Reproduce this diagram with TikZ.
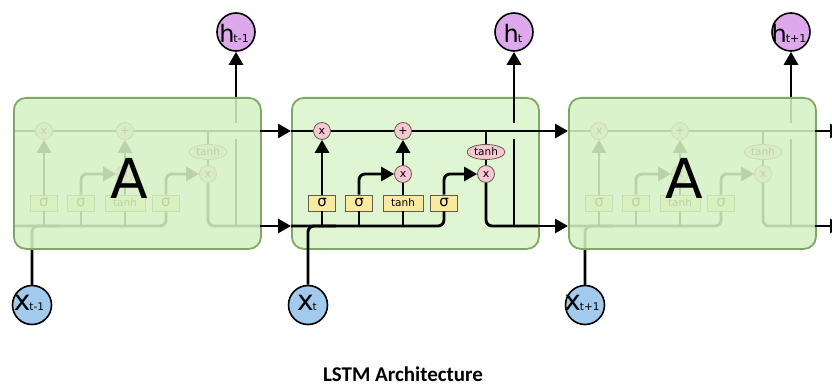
\documentclass[tikz,border=0pt]{standalone}
\usepackage{fontspec}
\setmainfont{DejaVu Sans}
\newfontfamily\titlefont{Carlito}
\usetikzlibrary{arrows.meta,shapes.geometric}
\definecolor{boxfill}{RGB}{224,245,210}
\definecolor{sidefill}{RGB}{214,241,196}
\definecolor{boxdraw}{RGB}{128,168,98}
\definecolor{pwfill}{RGB}{246,200,212}
\definecolor{gatefill}{RGB}{250,234,160}
\definecolor{gatedraw}{RGB}{95,95,75}
\definecolor{hfill}{RGB}{222,168,236}
\definecolor{xfill}{RGB}{162,202,236}
\tikzset{
  ln/.style={line width=2.9pt, line cap=butt},
  arr/.style={ln, -{Triangle[length=13pt,width=14pt]}},
  rc/.style={rounded corners=6pt},
  pw/.style={circle, draw=gatedraw, line width=0.8pt, fill=pwfill, minimum size=17pt, inner sep=0pt, font=\fontsize{11}{11}\selectfont},
  gatebox/.style={rectangle, draw=gatedraw, line width=0.8pt, fill=gatefill, minimum width=27pt, minimum height=16pt, inner sep=0pt, font=\fontsize{15}{15}\selectfont},
  tanhe/.style={ellipse, draw=gatedraw, line width=0.8pt, fill=pwfill, minimum width=38pt, minimum height=15pt, inner sep=0pt, font=\fontsize{10.5}{10.5}\selectfont},
  cellbox/.style={rectangle, rounded corners=12pt, draw=boxdraw, line width=1.8pt, minimum width=247pt, minimum height=151pt, inner sep=0pt},
  hcirc/.style={circle, draw=black, line width=1.6pt, fill=hfill, minimum size=38pt, inner sep=0pt},
  xcirc/.style={circle, draw=black, line width=1.6pt, fill=xfill, minimum size=39pt, inner sep=0pt},
  bigA/.style={font=\fontsize{55}{55}\selectfont},
}
% #1 = left x of box, #2 = prefix
\newcommand{\cellinner}[2]{%
\begin{scope}[shift={(#1,0)}]
  \node[gatebox] (#2-g1) at (31,203) {σ};
  \node[gatebox] (#2-g2) at (68,203) {σ};
  \node[gatebox, minimum width=40pt, font=\fontsize{10.5}{10.5}\selectfont] (#2-g3) at (112,203) {tanh};
  \node[gatebox] (#2-g4) at (153,203) {σ};
  \node[pw] (#2-xf) at (31,131) {x};
  \node[pw] (#2-pl) at (112,131) {+};
  \node[pw] (#2-xi) at (112,174) {x};
  \node[pw] (#2-xo) at (195,174) {x};
  \node[tanhe] (#2-te) at (195,152) {tanh};
  \coordinate (#2-cin) at (0,131);
  \coordinate (#2-cout) at (247,131);
  \coordinate (#2-cj) at (195,131);
  \coordinate (#2-hin) at (0,226);
  \coordinate (#2-hout) at (247,226);
  \coordinate (#2-hj) at (223,226);
  \coordinate (#2-hg1) at (223,139);
  \coordinate (#2-hg2) at (223,123);
  \coordinate (#2-xj) at (45,226);
  \coordinate (#2-top) at (0,97);
  \coordinate (#2-A) at (116,178);
  % cell state line
  \draw[ln] (#2-cin) -- (#2-xf.west);
  \draw[ln] (#2-xf.east) -- (#2-pl.west);
  \draw[ln] (#2-pl.east) -- (#2-cout);
  \draw[ln] (#2-cj) -- (#2-te.north);
  \draw[ln] (#2-te.south) -- (#2-xo.north);
  % hidden line and gates
  \draw[ln, rc] (#2-hin) -- (#2-g4.south |- #2-hin) -- (#2-g4.south);
  \draw[ln] (#2-g1.south) -- (#2-g1.south |- #2-hin);
  \draw[ln] (#2-g2.south) -- (#2-g2.south |- #2-hin);
  \draw[ln] (#2-g3.south) -- (#2-g3.south |- #2-hin);
  \draw[arr] (#2-g1.north) -- (#2-xf.south);
  \draw[arr, rc] (#2-g2.north) |- (#2-xi.west);
  \draw[ln] (#2-g3.north) -- (#2-xi.south);
  \draw[arr] (#2-xi.north) -- (#2-pl.south);
  \draw[arr, rc] (#2-g4.north) |- (#2-xo.west);
  \draw[ln, rc] (#2-xo.south) |- (#2-hout);
  \draw[ln] (#2-hj) -- (#2-hg1);
\end{scope}}
\begin{document}
\begin{tikzpicture}[x=1pt,y=-1pt]
\useasboundingbox (0,0) rectangle (832,385);
% output / input circles
\node[hcirc] (h1) at (236,32) {};
\node[hcirc] (h2) at (514,32) {};
\node[hcirc] (h3) at (791,32) {};
\node[xcirc] (x1) at (32,305) {};
\node[xcirc] (x2) at (308,305) {};
\node[xcirc] (x3) at (585,305) {};
% left cell (faded)
\cellinner{13}{L}
\draw[ln] (L-hg2) -- (L-top -| h1);
\draw[ln, rc] (x1.north) |- (L-xj);
\node[cellbox, fill=sidefill, fill opacity=0.87, anchor=north west] (LB) at (L-top) {};
\node[bigA] (LA) at (L-A) {A};
% right cell (faded)
\cellinner{568}{R}
\draw[ln] (R-hg2) -- (R-top -| h3);
\draw[ln, rc] (x3.north) |- (R-xj);
\node[cellbox, fill=sidefill, fill opacity=0.87, anchor=north west] (RB) at (R-top) {};
\node[bigA] (RA) at (R-A) {A};
% middle cell
\node[cellbox, fill=boxfill, anchor=north west] (MB) at (291,97) {};
\cellinner{291}{M}
\draw[arr] (M-hg2) -- (h2.south);
\draw[ln, rc] (x2.north) |- (M-xj);
% dark parts of side-cell lines outside the boxes
\draw[arr] (LB.north -| h1) -- (h1.south);
\draw[ln] (x1.north) -- (x1.north |- LB.south);
\draw[arr] (RB.north -| h3) -- (h3.south);
\draw[ln] (x3.north) -- (x3.north |- RB.south);
% connections between cells
\draw[arr] (L-cout) -- (M-cin);
\draw[arr] (L-hout) -- (M-hin);
\draw[arr] (M-cout) -- (R-cin);
\draw[arr] (M-hout) -- (R-hin);
\coordinate (Rc) at (843,131);
\coordinate (Rh) at (843,226);
\draw[arr] (R-cout) -- (Rc);
\draw[arr] (R-hout) -- (Rh);
% circle labels
\node[xshift=-2pt, yshift=-1pt] at (h1) {\fontsize{24}{24}\selectfont h\kern-1pt{\fontsize{11}{11}\selectfont t-1}};
\node[xshift=-1pt, yshift=-1pt] at (h2) {\fontsize{24}{24}\selectfont h\kern-1pt{\fontsize{11}{11}\selectfont t}};
\node[xshift=-2pt, yshift=-1pt] at (h3) {\fontsize{24}{24}\selectfont h\kern-1pt{\fontsize{11}{11}\selectfont t+1}};
\node[xshift=-3pt, yshift=2pt] at (x1) {\fontsize{28}{28}\selectfont x\kern-1pt{\fontsize{10.5}{10.5}\selectfont t-1}};
\node[xshift=-1pt, yshift=2pt] at (x2) {\fontsize{28}{28}\selectfont x\kern-1pt{\fontsize{10.5}{10.5}\selectfont t}};
\node[xshift=-3pt, yshift=2pt] at (x3) {\fontsize{28}{28}\selectfont x\kern-1pt{\fontsize{10.5}{10.5}\selectfont t+1}};
% title
\node[anchor=base, inner sep=0pt] (title) at (403,381) {\titlefont\bfseries\fontsize{21}{21}\selectfont LSTM Architecture};
\end{tikzpicture}
\end{document}
